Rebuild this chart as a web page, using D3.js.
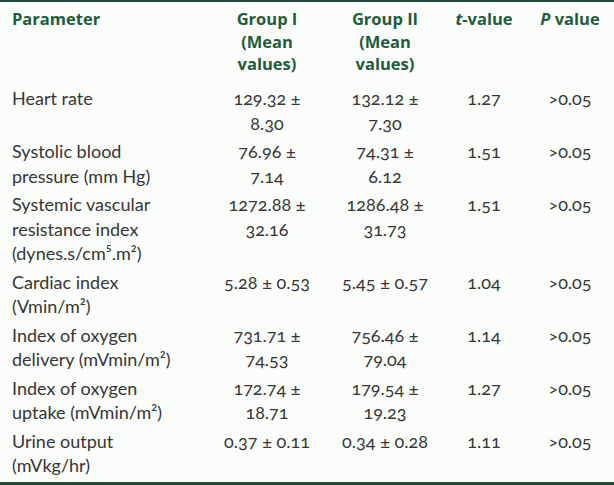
<!DOCTYPE html>
<html>
<head>
<meta charset="utf-8">
<script src="https://cdn.jsdelivr.net/npm/d3@7"></script>
<style>
  html, body { margin: 0; padding: 0; background: #fbfdfa; }
  svg { display: block; }
  .hdr { font-family: "Open Sans", Lato, sans-serif; font-weight: 700; fill: #1e5c3c; font-size: 16.5px; }
  .cell { font-family: Lato, "Noto Sans", sans-serif; fill: #363636; font-size: 18px; font-variant-numeric: oldstyle-nums; font-feature-settings: "onum" 1; }
</style>
</head>
<body>
<script>
// ---- data ----
const headers = [["Parameter"], ["Group I", "(Mean", "values)"], ["Group II", "(Mean", "values)"], ["t-value"], ["P value"]];
const parameters = [
  ["Heart rate"],
  ["Systolic blood", "pressure (mm Hg)"],
  ["Systemic vascular", "resistance index", "(dynes.s/cm⁵.m²)"],
  ["Cardiac index", "(Vmin/m²)"],
  ["Index of oxygen", "delivery (mVmin/m²)"],
  ["Index of oxygen", "uptake (mVmin/m²)"],
  ["Urine output", "(mVkg/hr)"]
];
const group1Mean = [129.32, 76.96, 1272.88, 5.28, 731.71, 172.74, 0.37];
const group1SD   = [8.30, 7.14, 32.16, 0.53, 74.53, 18.71, 0.11];
const group2Mean = [132.12, 74.31, 1286.48, 5.45, 756.46, 179.54, 0.34];
const group2SD   = [7.30, 6.12, 31.73, 0.57, 79.04, 19.23, 0.28];
const tValues    = [1.27, 1.51, 1.51, 1.04, 1.14, 1.27, 1.11];
const pValues    = [">0.05", ">0.05", ">0.05", ">0.05", ">0.05", ">0.05", ">0.05"];

// ---- layout ----
const W = 614, H = 485;
const colX = [12, 267, 385, 484, 570];
const maxChars = 11;
const lineH = 24.5, rowPad = 4;
const headerBase = 25, headerLineH = 22.5;
const bodyStart = 105;

const svg = d3.select("body").append("svg").attr("width", W).attr("height", H);
svg.append("rect").attr("width", W).attr("height", H).attr("fill", "#fbfdfa");
svg.append("rect").attr("x", 0).attr("y", 0).attr("width", W).attr("height", 2).attr("fill", "#1f4a37");
svg.append("rect").attr("x", 0).attr("y", 482).attr("width", W).attr("height", 3).attr("fill", "#1f4a37");

// header
headers.forEach((lines, ci) => {
  const t = svg.append("text").attr("class", "hdr")
    .attr("text-anchor", ci === 0 ? "start" : "middle");
  lines.forEach((ln, li) => {
    const ts = t.append("tspan").attr("x", colX[ci]).attr("y", headerBase + li * headerLineH);
    if (ci === 3) { ts.append("tspan").attr("font-style", "italic").text("t"); ts.append("tspan").text("-value"); }
    else if (ci === 4) { ts.append("tspan").attr("font-style", "italic").text("P"); ts.append("tspan").text(" value"); }
    else ts.text(ln);
  });
});

function wrapValue(m, s) {
  const full = m.toFixed(2) + " ± " + s.toFixed(2);
  if (full.length <= maxChars) return [full];
  return [m.toFixed(2) + " ±", s.toFixed(2)];
}

let y = bodyStart;
parameters.forEach((p, i) => {
  const cols = [
    { lines: p, x: colX[0], anchor: "start" },
    { lines: wrapValue(group1Mean[i], group1SD[i]), x: colX[1], anchor: "middle" },
    { lines: wrapValue(group2Mean[i], group2SD[i]), x: colX[2], anchor: "middle" },
    { lines: [tValues[i].toFixed(2)], x: colX[3], anchor: "middle" },
    { lines: [pValues[i]], x: colX[4], anchor: "middle" }
  ];
  const nLines = d3.max(cols, c => c.lines.length);
  cols.forEach(c => {
    const t = svg.append("text").attr("class", "cell").attr("text-anchor", c.anchor);
    t.selectAll("tspan").data(c.lines).join("tspan")
      .attr("x", c.x).attr("y", (d, k) => y + k * lineH).text(d => d);
  });
  y += nLines * lineH + rowPad;
});
</script>
</body>
</html>
